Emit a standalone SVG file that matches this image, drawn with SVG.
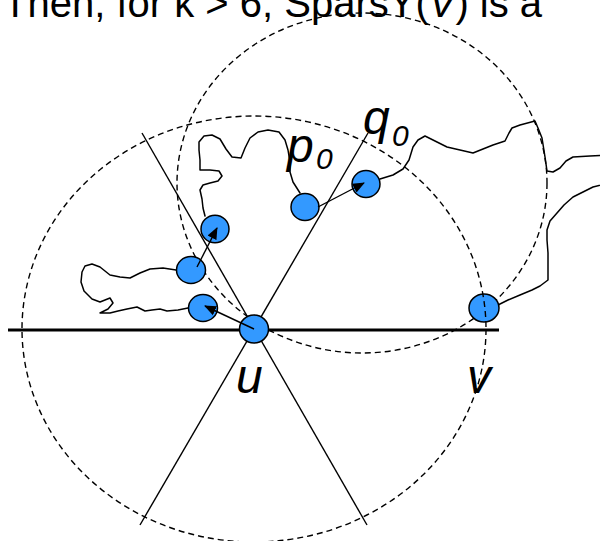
<svg xmlns="http://www.w3.org/2000/svg" width="600" height="541" viewBox="0 0 600 541">
<defs>
<marker id="ah" markerUnits="userSpaceOnUse" markerWidth="12" markerHeight="12" viewBox="0 0 12 10" refX="11" refY="5" orient="auto">
<path d="M0,0 L12,5 L0,10 z" fill="#000"/>
</marker>
</defs>
<style>
.dash{fill:none;stroke:#000;stroke-width:1.4;stroke-dasharray:6,4}
.cone{fill:none;stroke:#000;stroke-width:1.4}
.blob{fill:none;stroke:#000;stroke-width:1.5;stroke-linejoin:round;stroke-linecap:round}
.node ellipse{fill:#3399ff;stroke:#000;stroke-width:1.5}
.arr{fill:none;stroke:#000;stroke-width:1.4;marker-end:url(#ah)}
.lbl{font-family:"Liberation Sans",Arial,sans-serif;font-style:italic;fill:#000}
.title{font-family:"Liberation Sans",Arial,sans-serif;font-size:40px;fill:#000}
</style>
<rect width="600" height="541" fill="#fff"/>
<text class="title" x="3" y="17">Then, for k &gt; 6, SparsY(<tspan font-style="italic">V</tspan>) is a</text>
<g id="region2">
<ellipse class="dash" cx="362" cy="183" rx="185" ry="170"/>
</g>
<g id="axes">
<line x1="8" y1="330" x2="499" y2="330" stroke="#000" stroke-width="2.8"/>
<line class="cone" x1="142" y1="133" x2="367" y2="525"/>
<line class="cone" x1="368" y1="133" x2="140" y2="525"/>
</g>
<g id="boundaries">
<path class="blob" d="M176,270 L163,268 150,269 140,273 130,278 120,277 110,275 100,267 92,264 85,266 82,272 81,282 84,291 92,299 100,302 110,298 113,303 108,309 100,313 110,313 118,311 127,309 137,307 145,311 152,310 160,309 167,311 178,310 188,308"/>
<path class="blob" d="M205,216 L203,208 202,199 200,190 203,185 210,183 218,181 222,176 219,171 210,170 200,170 200,160 199,150 199,142 204,136 212,135 220,139 226,149 232,157 241,158 245,148 250,138 258,132 268,130 279,132 285,140 288,150 290,162 290,172 293,182 300,193"/>
<path class="blob" d="M380,179 L393,175 403,169 409,160 413,147 418,140 425,136 437,142 447,147 460,150 473,153 483,149 493,145 505,141 509,133 512,128 520,125 535,121 538,128 542,138 545,157 547,171 553,172 560,168 566,161 573,157 590,156 610,155 L610,183 593,187 583,192 573,197 564,205 557,213 550,221 547,230 547,240 548,253 548,268 548,280 540,286 532,290 520,295 508,300 498,305"/>
</g>
<g id="n1" class="node"><ellipse cx="215" cy="229" rx="14" ry="13.7"/></g>
<g id="n2" class="node"><ellipse cx="191" cy="270" rx="14.5" ry="13.5"/></g>
<g id="n3" class="node"><ellipse cx="203" cy="308" rx="14.5" ry="13.5"/></g>
<g id="u" class="node"><ellipse cx="254" cy="329" rx="14.5" ry="14"/></g>
<g id="p0" class="node"><ellipse cx="305" cy="207" rx="14" ry="13.5"/></g>
<g id="q0" class="node"><ellipse cx="366" cy="184" rx="14" ry="13.5"/></g>
<g id="v" class="node"><ellipse cx="484" cy="308" rx="15" ry="14"/></g>
<g id="region1">
<ellipse class="dash" cx="254" cy="329" rx="232" ry="213"/>
</g>
<g id="connectors">
<line class="arr" x1="197" y1="267" x2="217" y2="228"/>
<line class="arr" x1="254" y1="329" x2="205" y2="306"/>
<line class="arr" x1="318" y1="207" x2="364" y2="183"/>
</g>
<g id="labels">
<text class="lbl" x="287" y="162" font-size="48">p</text>
<text class="lbl" x="316" y="169" font-size="30">0</text>
<text class="lbl" x="363" y="134" font-size="48">q</text>
<text class="lbl" x="392" y="146" font-size="30">0</text>
<text class="lbl" x="236" y="393" font-size="48">u</text>
<text class="lbl" x="467" y="393" font-size="48">v</text>
</g>
</svg>
